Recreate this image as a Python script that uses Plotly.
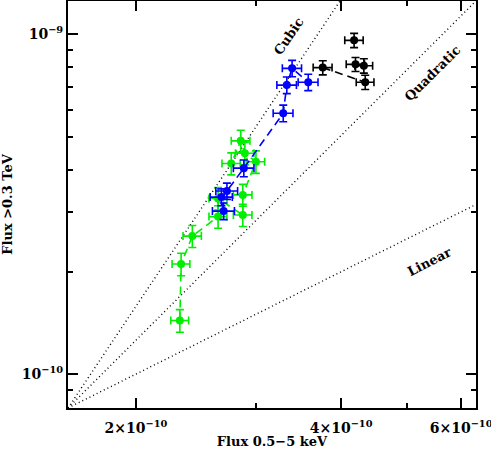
import numpy as np
import plotly.graph_objects as go

# ---- data ----
green_x = [2.32e-10, 2.33e-10, 2.42e-10, 2.64e-10, 2.64e-10, 2.87e-10, 2.87e-10, 3.00e-10, 2.89e-10, 2.85e-10, 2.76e-10]
green_y = [1.44e-10, 2.11e-10, 2.55e-10, 2.91e-10, 3.29e-10, 2.94e-10, 3.37e-10, 4.22e-10, 4.47e-10, 4.86e-10, 4.17e-10]
green_xerr = [0.07e-10, 0.07e-10, 0.075e-10, 0.08e-10, 0.08e-10, 0.09e-10, 0.09e-10, 0.09e-10, 0.09e-10, 0.09e-10, 0.085e-10]
green_yerr = [0.11e-10, 0.16e-10, 0.19e-10, 0.22e-10, 0.25e-10, 0.22e-10, 0.25e-10, 0.32e-10, 0.34e-10, 0.36e-10, 0.31e-10]

blue_x = [2.69e-10, 2.67e-10, 2.72e-10, 2.88e-10, 3.29e-10, 3.33e-10, 3.39e-10, 3.58e-10]
blue_y = [3.02e-10, 3.32e-10, 3.46e-10, 4.04e-10, 5.86e-10, 7.09e-10, 7.94e-10, 7.23e-10]
blue_xerr = [0.10e-10, 0.10e-10, 0.10e-10, 0.10e-10, 0.11e-10, 0.11e-10, 0.11e-10, 0.12e-10]
blue_yerr = [0.17e-10, 0.19e-10, 0.19e-10, 0.23e-10, 0.33e-10, 0.40e-10, 0.44e-10, 0.40e-10]

black_x = [3.76e-10, 4.34e-10, 4.32e-10, 4.20e-10, 4.18e-10]
black_y = [7.98e-10, 7.23e-10, 8.08e-10, 8.16e-10, 9.60e-10]
black_xerr = [0.12e-10, 0.13e-10, 0.13e-10, 0.13e-10, 0.13e-10]
black_yerr = [0.38e-10, 0.35e-10, 0.39e-10, 0.39e-10, 0.46e-10]
black_line_idx = [0, 1]

x_range = [1.59e-10, 6.31e-10]
y_range = [7.96e-11, 1.253e-9]
powers = {"Linear": 1, "Quadratic": 2, "Cubic": 3}

x_major = [2e-10, 4e-10, 6e-10]
x_major_text = ["2×10<sup>−10</sup>", "4×10<sup>−10</sup>", "6×10<sup>−10</sup>"]
x_minor = [3e-10, 5e-10]
y_major = [1e-10, 1e-9]
y_major_text = ["10<sup>−10</sup>", "10<sup>−9</sup>"]
y_minor = [8e-11, 9e-11] + [k * 1e-10 for k in range(2, 10)]

label_pos = {"Cubic": (3.35e-10, 9.85e-10, -56),
             "Quadratic": (5.44e-10, 7.69e-10, -45),
             "Linear": (5.40e-10, 2.14e-10, -27)}

FONT = "DejaVu Serif"
fig = go.Figure()

# reference power-law lines through the lower-left corner
for name, n in powers.items():
    xs = np.array(x_range)
    ys = y_range[0] * (xs / x_range[0]) ** n
    fig.add_trace(go.Scatter(x=xs, y=ys, mode="lines",
                             line=dict(color="black", width=1.4, dash="1px,3px"),
                             hoverinfo="skip", showlegend=False))

def series(x, y, xe, ye, color, line=True):
    fig.add_trace(go.Scatter(
        x=x, y=y, mode="lines+markers" if line else "markers",
        line=dict(color=color, width=1.6, dash="8px,5px"),
        marker=dict(color=color, size=8),
        error_x=dict(type="data", array=xe, color=color, thickness=1.6, width=4),
        error_y=dict(type="data", array=ye, color=color, thickness=1.6, width=4),
        showlegend=False))

series(green_x, green_y, green_xerr, green_yerr, "#00ee00")
series(blue_x, blue_y, blue_xerr, blue_yerr, "#0000ff")
fig.add_trace(go.Scatter(x=[black_x[i] for i in black_line_idx],
                         y=[black_y[i] for i in black_line_idx], mode="lines",
                         line=dict(color="black", width=1.6, dash="8px,5px"),
                         showlegend=False))
series(black_x, black_y, black_xerr, black_yerr, "black", line=False)

for name, (lx, ly, ang) in label_pos.items():
    fig.add_annotation(x=np.log10(lx), y=np.log10(ly), text="<b>%s</b>" % name, textangle=ang,
                       showarrow=False, font=dict(family=FONT, size=13, color="black"))

axis_common = dict(type="log", showgrid=False, zeroline=False, showline=True,
                   linecolor="black", linewidth=2, mirror="allticks", automargin=False,
                   ticks="inside", ticklen=10, tickwidth=1.5, tickcolor="black",
                   ticklabeloverflow="allow",
                   tickfont=dict(family=FONT, size=14, color="black", weight="bold"))

fig.update_xaxes(**axis_common, range=[np.log10(v) for v in x_range],
                 tickvals=x_major, ticktext=x_major_text, ticklabelstandoff=6,
                 minor=dict(tickvals=x_minor, ticks="inside", ticklen=5,
                            tickwidth=1.5, tickcolor="black", showgrid=False),
                 title=dict(text="<b>Flux 0.5−5 keV</b>", font=dict(family=FONT, size=13, color="black"), standoff=0))
fig.update_yaxes(**axis_common, range=[np.log10(v) for v in y_range],
                 tickvals=y_major, ticktext=y_major_text,
                 minor=dict(tickvals=y_minor, ticks="inside", ticklen=5,
                            tickwidth=1.5, tickcolor="black", showgrid=False),
                 title=dict(text="<b>Flux >0.3 TeV</b>", font=dict(family=FONT, size=13, color="black"), standoff=6))

fig.update_layout(width=491, height=449, margin=dict(l=68, r=15, t=1, b=41),
                  plot_bgcolor="white", paper_bgcolor="white")
fig.write_html("out.html", config={"displayModeBar": False},
               post_script="document.body.style.margin='0';")
